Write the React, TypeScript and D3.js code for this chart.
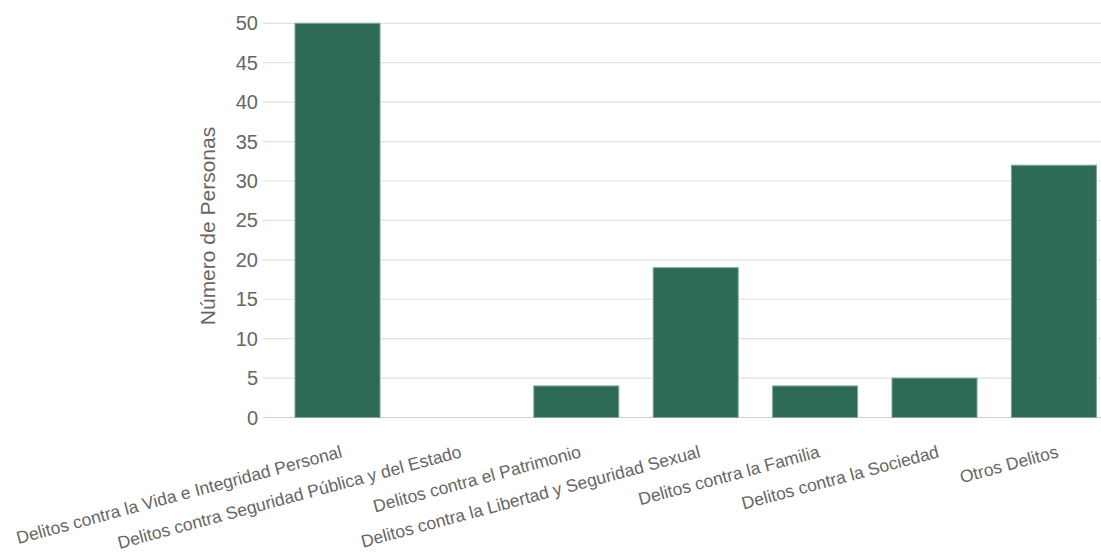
import React from "react";
import * as d3 from "d3";

const categories = [
  "Delitos contra la Vida e Integridad Personal",
  "Delitos contra Seguridad Pública y del Estado",
  "Delitos contra el Patrimonio",
  "Delitos contra la Libertad y Seguridad Sexual",
  "Delitos contra la Familia",
  "Delitos contra la Sociedad",
  "Otros Delitos",
];
const values = [50, 0, 4, 19, 4, 5, 32];
const yTicks = [0, 5, 10, 15, 20, 25, 30, 35, 40, 45, 50];
const yTitle = "Número de Personas";

const W = 1101;
const H = 552;

export default function App() {
  const x = d3
    .scaleBand<string>()
    .domain(categories)
    .range([277.8, 1113.6])
    .paddingInner(0.288)
    .paddingOuter(0.144);
  const y = d3.scaleLinear().domain([0, 50]).range([417.5, 23.3]);
  const font = "'Liberation Sans', Arial, sans-serif";
  return (
    <svg
      width={W}
      height={H}
      style={{ position: "absolute", left: 0, top: 0, display: "block", background: "#fff" }}
      fontFamily={font}
    >
      {yTicks.map((t) => (
        <g key={t}>
          <line x1={263} x2={W} y1={y(t)} y2={y(t)} stroke={t === 0 ? "#d0d0d0" : "#e2e2e2"} strokeWidth={1.2} />
          <text x={258} y={y(t)} dy="0.35em" textAnchor="end" fontSize={20} fill="#666">
            {t}
          </text>
        </g>
      ))}
      {categories.map((c, i) => {
        const x0 = x(c)!;
        const v = values[i];
        if (v <= 0) return null;
        return (
          <rect
            key={c}
            x={x0}
            y={y(v)}
            width={x.bandwidth()}
            height={y(0) - y(v)}
            fill="#2d6b55"
            stroke="#7ea696"
            strokeWidth={1}
          />
        );
      })}
      {categories.map((c) => {
        const cx = x(c)! + x.bandwidth() / 2 + 5.5;
        return (
          <text
            key={c}
            transform={`translate(${cx},457) rotate(-15)`}
            textAnchor="end"
            fontSize={17.5}
            fill="#666"
          >
            {c}
          </text>
        );
      })}
      <text
        transform={`translate(215,226) rotate(-90)`}
        textAnchor="middle"
        fontSize={21}
        fill="#666"
      >
        {yTitle}
      </text>
    </svg>
  );
}
